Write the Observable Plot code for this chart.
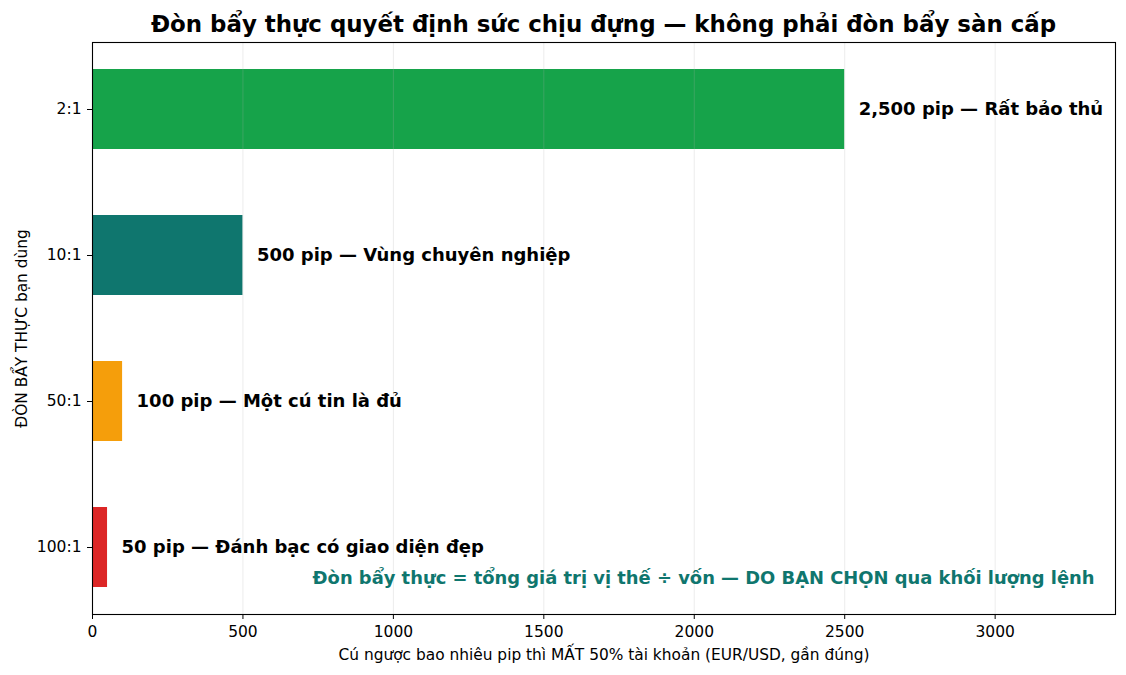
<!DOCTYPE html>
<html>
<head>
<meta charset="utf-8">
<script src="https://cdn.jsdelivr.net/npm/d3@7"></script>
<script src="https://cdn.jsdelivr.net/npm/@observablehq/plot@0.6"></script>
<style>
  html, body { margin: 0; padding: 0; background: #fff; }
  body { width: 1126px; height: 675px; overflow: hidden; font-family: "DejaVu Sans", sans-serif; }
  #title { box-sizing: border-box; height: 36px; padding: 10px 11px 0 92px; text-align: center;
           font-weight: bold; font-size: 22.9px; line-height: 28px; color: #000; white-space: nowrap; }
  #chart svg { display: block; }
</style>
</head>
<body>
<div id="title">Đòn bẩy thực quyết định sức chịu đựng — không phải đòn bẩy sàn cấp</div>
<div id="chart"></div>
<script>
const categories = ["2:1", "10:1", "50:1", "100:1"];
const pips = [2500, 500, 100, 50];
const barLabels = [
  "2,500 pip — Rất bảo thủ",
  "500 pip — Vùng chuyên nghiệp",
  "100 pip — Một cú tin là đủ",
  "50 pip — Đánh bạc có giao diện đẹp"
];
const colors = ["#16a34a", "#0f766e", "#f59e0b", "#dc2626"];
const xTicks = [0, 500, 1000, 1500, 2000, 2500, 3000];
const xLabel = "Cú ngược bao nhiêu pip thì MẤT 50% tài khoản (EUR/USD, gần đúng)";
const yLabel = "ĐÒN BẨY THỰC bạn dùng";
const note = "Đòn bẩy thực = tổng giá trị vị thế ÷ vốn — DO BẠN CHỌN qua khối lượng lệnh";

const data = categories.map((c, i) => ({cat: c, pips: pips[i], label: barLabels[i], color: colors[i]}));

const chart = Plot.plot({
  width: 1126,
  height: 633,
  marginTop: 6,
  marginBottom: 55,
  marginLeft: 92,
  marginRight: 11,
  style: {fontFamily: "DejaVu Sans, sans-serif", background: "#fff"},
  x: {domain: [0, 3400]},
  y: {domain: categories, paddingInner: 0.454, paddingOuter: 0.177},
  marks: [
    Plot.barX(data, {x: "pips", y: "cat", fill: "color"}),
    Plot.gridX(xTicks, {stroke: "#b0b0b0", strokeOpacity: 0.3, strokeWidth: 0.8}),
    Plot.axisX({ticks: xTicks, tickSize: 5, tickPadding: 6, fontSize: 15.5, label: null, tickFormat: d => String(d), fill: "#000"}),
    Plot.axisY({tickSize: 5, tickPadding: 6, fontSize: 15.5, label: null, fill: "#000"}),
    Plot.frame({stroke: "#000", strokeWidth: 1.1}),
    Plot.text(data, {x: "pips", y: "cat", text: "label", dx: 14, textAnchor: "start", fontWeight: "bold", fontSize: 18, fill: "#000"}),
    Plot.text([note], {frameAnchor: "bottom-right", dx: -21, dy: -36, textAnchor: "end", lineAnchor: "middle", fontWeight: "bold", fontSize: 17.9, fill: "#0f766e"}),
    Plot.text([xLabel], {frameAnchor: "bottom", dy: 41, lineAnchor: "middle", textAnchor: "middle", fontSize: 15.4, fill: "#000"}),
    Plot.text([yLabel], {frameAnchor: "left", dx: -70, rotate: -90, lineAnchor: "middle", textAnchor: "middle", fontSize: 15.4, fill: "#000"})
  ]
});
document.getElementById("chart").appendChild(chart);
</script>
</body>
</html>
